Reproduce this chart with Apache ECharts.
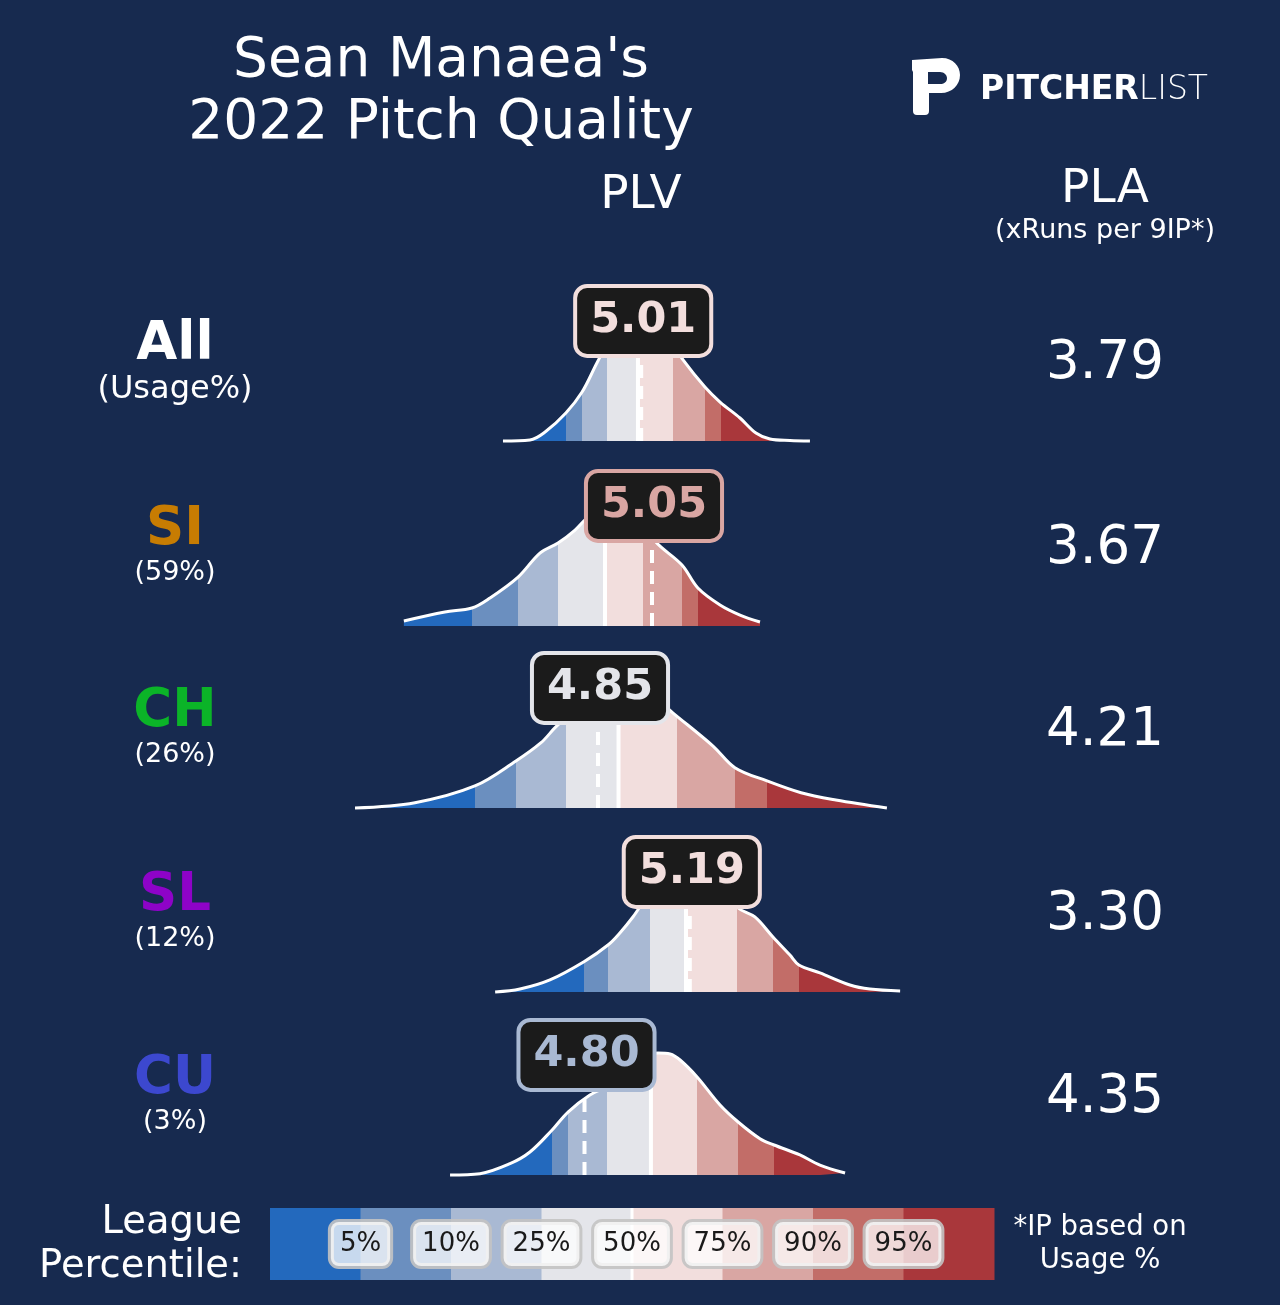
<!DOCTYPE html>
<html>
<head>
<meta charset="utf-8">
<title>Sean Manaea 2022 Pitch Quality</title>
<script src="https://cdn.jsdelivr.net/npm/echarts@6/dist/echarts.min.js"></script>
<style>
html, body { margin: 0; padding: 0; background: #172a4f; }
#chart { width: 1280px; height: 1305px; }
</style>
</head>
<body>
<div id="chart"></div>
<script>
// rows, top to bottom
var pitchNames = ['All', 'SI', 'CH', 'SL', 'CU'];
var pitchUsage = ['(Usage%)', '(59%)', '(26%)', '(12%)', '(3%)'];
var plvValues = [5.01, 5.05, 4.85, 5.19, 4.80];
var plaValues = ['3.79', '3.67', '4.21', '3.30', '4.35'];

// league percentile cut points (5,10,25,50,75,90,95) in PLV
var cutsAll = [4.731, 4.791, 4.883, 4.998, 5.128, 5.246, 5.306];
var cutsSI = [4.383, 4.554, 4.702, 4.876, 5.017, 5.161, 5.220];
var cutsCH = [4.396, 4.546, 4.731, 4.926, 5.143, 5.357, 5.476];
var cutsSL = [4.798, 4.887, 5.043, 5.176, 5.365, 5.498, 5.594];
var cutsCU = [4.680, 4.739, 4.883, 5.046, 5.217, 5.369, 5.502];

// league PLV density, x = PLV, y = density relative to the peak
var kdeAllX = [4.498, 4.598, 4.654, 4.731, 4.791, 4.846, 4.902, 4.950, 5.006, 5.061, 5.117, 5.165, 5.246, 5.302, 5.376, 5.435, 5.487, 5.561, 5.635];
var kdeAllY = [0, 0.008, 0.073, 0.228, 0.398, 0.634, 0.860, 0.980, 1.000, 0.970, 0.820, 0.660, 0.439, 0.317, 0.187, 0.065, 0.016, 0.004, 0];
var kdeSIX = [4.131, 4.283, 4.383, 4.450, 4.554, 4.635, 4.702, 4.765, 4.820, 4.876, 4.931, 4.987, 5.061, 5.161, 5.220, 5.302, 5.376, 5.450];
var kdeSIY = [0.041, 0.114, 0.146, 0.228, 0.398, 0.593, 0.675, 0.780, 0.902, 0.984, 1.000, 0.943, 0.691, 0.496, 0.309, 0.171, 0.089, 0.033];
var kdeCHX = [3.950, 4.172, 4.394, 4.546, 4.639, 4.691, 4.765, 4.839, 4.913, 4.987, 5.061, 5.128, 5.276, 5.357, 5.476, 5.602, 5.731, 5.920];
var kdeCHY = [0, 0.043, 0.179, 0.382, 0.531, 0.653, 0.805, 0.927, 0.992, 0.984, 0.894, 0.772, 0.504, 0.328, 0.220, 0.124, 0.065, 0];
var kdeSLX = [4.469, 4.561, 4.672, 4.798, 4.887, 4.931, 4.980, 5.043, 5.117, 5.191, 5.265, 5.320, 5.369, 5.431, 5.498, 5.561, 5.594, 5.672, 5.783, 5.857, 5.969];
var kdeSLY = [0, 0.024, 0.098, 0.246, 0.382, 0.480, 0.612, 0.805, 0.927, 0.976, 0.943, 0.829, 0.683, 0.610, 0.447, 0.300, 0.220, 0.155, 0.057, 0.024, 0.008];
var kdeCUX = [4.302, 4.413, 4.524, 4.598, 4.680, 4.739, 4.820, 4.894, 4.969, 5.024, 5.072, 5.117, 5.154, 5.217, 5.302, 5.369, 5.450, 5.502, 5.598, 5.672, 5.765];
var kdeCUY = [0, 0.011, 0.092, 0.187, 0.366, 0.512, 0.650, 0.732, 0.870, 0.967, 0.992, 0.984, 0.935, 0.797, 0.569, 0.431, 0.295, 0.244, 0.163, 0.081, 0.016];

// legend colorbar labels
var pctLabels = ['5%', '10%', '25%', '50%', '75%', '90%', '95%'];

var bg = '#172a4f';
var bandColors = ['#2369bd', '#6b8fbf', '#a9b9d3', '#e4e5ea', '#f2dedd', '#d9a6a3', '#c26d68', '#a9373b'];
var pitchColors = ['#ffffff', '#c77c02', '#0bb428', '#8e03c8', '#3c48cf'];
var rowBase = [441, 626, 808, 992, 1175];
var peakPx = 123;
var font = 'DejaVu Sans';

var kdeX = [kdeAllX, kdeSIX, kdeCHX, kdeSLX, kdeCUX];
var kdeY = [kdeAllY, kdeSIY, kdeCHY, kdeSLY, kdeCUY];
var cuts = [cutsAll, cutsSI, cutsCH, cutsSL, cutsCU];

function bandOf(v, c) {
    var k = 0;
    while (k < c.length && v >= c[k]) k++;
    return k;
}
function heightAt(xs, ys, v) {
    for (var j = 1; j < xs.length; j++) {
        if (v <= xs[j]) {
            var t = (v - xs[j - 1]) / (xs[j] - xs[j - 1]);
            return ys[j - 1] + t * (ys[j] - ys[j - 1]);
        }
    }
    return 0;
}
function makePieces(c) {
    var p = [{lt: c[0], color: bandColors[0]}];
    for (var k = 1; k < c.length; k++) p.push({gte: c[k - 1], lt: c[k], color: bandColors[k]});
    p.push({gte: c[c.length - 1], color: bandColors[c.length]});
    return p;
}
function txt(x, y, s, size, extra) {
    var st = {text: s, fill: '#ffffff', fontSize: size, fontFamily: font,
        textAlign: 'center', textVerticalAlign: 'middle', align: 'center', verticalAlign: 'middle'};
    for (var k in (extra || {})) st[k] = extra[k];
    return {type: 'text', x: x, y: y, z: 100, silent: true, style: st};
}

var grids = [], xAxes = [], yAxes = [], series = [], visualMaps = [], graphics = [];

for (var i = 0; i < pitchNames.length; i++) {
    grids.push({left: 233.5, width: 810, top: rowBase[i] - peakPx, height: peakPx});
    xAxes.push({type: 'value', gridIndex: i, min: 3.5, max: 6.5, show: false});
    yAxes.push({type: 'value', gridIndex: i, min: 0, max: 1, show: false});

    var pts = kdeX[i].map(function (x, j) { return [x, kdeY[i][j]]; });
    visualMaps.push({type: 'piecewise', show: false, dimension: 0, seriesIndex: series.length, pieces: makePieces(cuts[i])});
    series.push({
        type: 'line', xAxisIndex: i, yAxisIndex: i, data: pts,
        smooth: 0.35, showSymbol: false, symbol: 'none', clip: false, silent: true,
        lineStyle: {color: '#ffffff', width: 3},
        areaStyle: {opacity: 1},
        z: 2
    });

    var med = cuts[i][3];
    series.push({
        type: 'line', xAxisIndex: i, yAxisIndex: i, silent: true, symbol: 'none', clip: false,
        data: [[med, 0], [med, heightAt(kdeX[i], kdeY[i], med)]],
        lineStyle: {color: '#ffffff', width: 4}, z: 3
    });

    var v = plvValues[i];
    series.push({
        type: 'line', xAxisIndex: i, yAxisIndex: i, silent: true, symbol: 'none', clip: false,
        data: [[v, 0], [v, heightAt(kdeX[i], kdeY[i], v)]],
        lineStyle: {color: '#ffffff', width: 4, type: [13, 8]}, z: 3
    });

    var col = bandColors[bandOf(v, cuts[i])];
    series.push({
        type: 'scatter', xAxisIndex: i, yAxisIndex: i, silent: true,
        data: [[v, 0.976]], symbolSize: 0, itemStyle: {color: 'transparent', opacity: 1}, z: 10,
        label: {
            show: true, position: 'inside', offset: [2, 0],
            formatter: function (p) { return p.value[0].toFixed(2); },
            color: col, fontSize: 43, fontWeight: 'bold', fontFamily: font, lineHeight: 50,
            backgroundColor: '#1b1b1b', borderColor: col, borderWidth: 4, borderRadius: 10,
            padding: [8, 13], opacity: 1
        }
    });

    // left pitch label, right PLA value
    graphics.push(txt(175, rowBase[i] - 96, pitchNames[i], 53, {fontWeight: 'bold', fill: pitchColors[i]}));
    graphics.push(txt(175, rowBase[i] - (i === 0 ? 51 : 53), pitchUsage[i], i === 0 ? 32 : 27));
    graphics.push(txt(1105, rowBase[i] - 77, plaValues[i], 53));
}

// colorbar legend
var L = pitchNames.length;
grids.push({left: 270, width: 724, top: 1208, height: 72});
xAxes.push({type: 'value', gridIndex: L, min: 0, max: 8, show: false});
yAxes.push({type: 'value', gridIndex: L, min: 0, max: 1, show: false});
series.push({
    type: 'custom', xAxisIndex: L, yAxisIndex: L, silent: true,
    data: bandColors.map(function (c, k) { return [k, k + 1]; }),
    renderItem: function (params, api) {
        var p0 = api.coord([api.value(0), 0]);
        var p1 = api.coord([api.value(1), 1]);
        return {type: 'rect', shape: {x: p0[0], y: p1[1], width: p1[0] - p0[0] + 0.5, height: p0[1] - p1[1]},
            style: {fill: bandColors[params.dataIndex]}};
    },
    z: 2
});
series.push({
    type: 'line', xAxisIndex: L, yAxisIndex: L, silent: true, symbol: 'none',
    data: [[4, 0], [4, 1]], lineStyle: {color: '#ffffff', width: 3}, z: 3
});
series.push({
    type: 'scatter', xAxisIndex: L, yAxisIndex: L, silent: true, symbolSize: 0,
    itemStyle: {color: 'transparent', opacity: 1}, z: 10,
    data: pctLabels.map(function (s, k) { return [k + 1, 0.5]; }),
    label: {
        show: true, position: 'inside', opacity: 1,
        formatter: function (p) { return pctLabels[p.dataIndex]; },
        color: '#1a1a1a', fontSize: 26, fontFamily: font, lineHeight: 30,
        backgroundColor: 'rgba(255,255,255,0.75)', borderColor: 'rgba(195,195,195,0.9)',
        borderWidth: 3, borderRadius: 8, padding: [7, 9]
    }
});

// headings and notes
graphics.push(txt(441, 62, "Sean Manaea's", 55));
graphics.push(txt(441, 124, '2022 Pitch Quality', 55));
graphics.push(txt(641, 196, 'PLV', 47));
graphics.push(txt(1105, 190, 'PLA', 47));
graphics.push(txt(1105, 231, '(xRuns per 9IP*)', 27));
graphics.push(txt(242, 1245, 'League\nPercentile:', 38.5, {textAlign: 'right', align: 'right', lineHeight: 44}));
graphics.push(txt(1100, 1244, '*IP based on\nUsage %', 27.5, {lineHeight: 33}));

// pitcherlist logo
var logoSvg = '<svg xmlns="http://www.w3.org/2000/svg" width="60" height="65" viewBox="0 0 60 65">' +
    '<path fill="#ffffff" fill-rule="evenodd" d="M7,5 L37,3 C48,3 55,11 55,20 C55,30 47,38 36,38 L24,38 L24,56 Q24,60 20,60 L12,60 Q8,60 8,56 L8,17 L7,15 Z ' +
    'M23,17 L35,17 C39,17 42,20 42,23 C42,27 39,29 35,29 L23,29 Z"/></svg>';
graphics.push({
    type: 'image', x: 905, y: 55, z: 100, silent: true,
    style: {image: 'data:image/svg+xml;charset=utf-8,' + encodeURIComponent(logoSvg), width: 60, height: 65}
});
graphics.push(txt(980, 90, '{a|PITCHER}{b|LIST}', 33, {
    textAlign: 'left', align: 'left',
    rich: {
        a: {fontSize: 33, fontWeight: 'bold', fontFamily: font, fill: '#ffffff', color: '#ffffff'},
        b: {fontSize: 33, fontWeight: 200, fontFamily: font, fill: '#ffffff', color: '#ffffff'}
    }
}));

var myChart = echarts.init(document.getElementById('chart'));
var option = {
    backgroundColor: bg,
    animation: false,
    textStyle: {fontFamily: font},
    grid: grids,
    xAxis: xAxes,
    yAxis: yAxes,
    visualMap: visualMaps,
    series: series,
    graphic: {elements: graphics}
};
myChart.setOption(option);
</script>
</body>
</html>
